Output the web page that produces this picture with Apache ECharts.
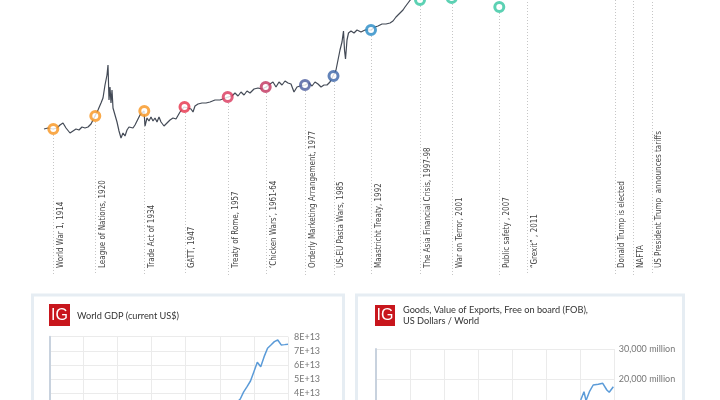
<!DOCTYPE html>
<html><head><meta charset="utf-8">
<script src="https://cdn.jsdelivr.net/npm/echarts@6/dist/echarts.min.js"></script>
<style>html,body{margin:0;padding:0;background:#fff}#c{width:720px;height:400px}</style>
</head><body><div id="c"></div>
<script>
// ---- Trade timeline (abstract timeline position vs. trade index level) ----
const trendPos = [44,48,53,57,60,63,66,70,73,76,79,82,85,88,91,95,98,101,103,105,106,107,108,109,110,111,112,113,115,117,119,121,123,125,127,129,131,133,135,137,140,144,145,147,149,151,153,155,157,159,161,164,167,170,173,176,180,184,188,191,193,195,198,202,206,210,215,220,228,232,235,238,241,244,247,250,254,258,262,266,270,273,276,279,282,285,288,291,294,297,300,305,309,312,315,318,321,324,327,330,333,336,338,340,342,343.5,344.5,345.5,347,348.5,351,354,357,361,365,371,375,378,382,386,390,393,396,399,401,403,405,408,411,414];
const trendLevel = [146,147,146,147,150,152,147,142,144,146,145,148,147,148,151,159,165,172,177,190,195,200,210,175,188,172,185,167,160,153,144,137,142,139,145,148,149,147,150,154,160,164,149,157,154,158,154,157,153,158,153,149,152,155,157,156,163,168,167,166,163,169,171,172,172,173,175,175,178,179,182,179,183,180,184,182,186,187,186,188,191,193,188,193,190,194,192,191,183,188,189,190,192,189,193,191,188,190,190,193,199,205,215,225,233,244,225,216,235,242,244,242,245,243,245,245,248,249,251,251,252,254,258,261,261,265,268,272,276,280];

const eventNames = [
  "World War 1, 1914","League of Nations, 1920","Trade Act of 1934","GATT, 1947",
  "Treaty of Rome, 1957","\u2018Chicken Wars\u2019, 1961-64","Orderly Marketing Arrangement, 1977",
  "US-EU Pasta Wars, 1985","Maastricht Treaty, 1992","The Asia Financial Crisis, 1997-98",
  "War on Terror, 2001","Public safety , 2007","\u201cGrexit\u201d , 2011","Donald Trump is elected",
  "NAFTA","US President Trump  announces tariffs"];
const eventPos = [53.3,95.3,144.3,184.5,227.7,265.7,305,333.5,371,420,451.7,499.3,527,614.5,633.3,651.5];
const eventLevel = [146,159,164,168,178,188,190,199,245,275,277,268,300,320,325,330];

// ---- World GDP (current US$) ----
const gdpYears = [2001,2002,2003,2004,2005,2006,2007,2008,2009,2010,2011,2012,2013,2014,2015,2016];
const gdpValues = [3.35e13,3.6e13,4.1e13,4.47e13,4.87e13,5.53e13,6.19e13,5.88e13,6.59e13,7.18e13,7.41e13,7.65e13,7.77e13,7.42e13,7.44e13,7.47e13];

// ---- Goods exports FOB, World (US$ million) ----
const expYears = [2005.5,2006.05,2007.0,2007.6,2008.6,2009.7,2011.2,2012.5,2013.7,2014.4,2015.6];
const expValues = [11500,13000,15770,12800,15770,18000,18230,18570,16330,15570,17430];

// ---- styles ----
const markerColors = ['#f7941d','#f7941d','#f7941d','#e63148','#d9365b','#c0325d','#4a5b9e','#3b64a8','#2589c6','#33c6a0','#33c6a0','#33c6a0','#33c6a0','#33c6a0','#33c6a0','#33c6a0'];
const labelFont = '9.5px "Liberation Sans Narrow", "DejaVu Sans Condensed", sans-serif';
const titleFont = '"Lato", "Noto Sans", sans-serif';

const chart = echarts.init(document.getElementById('c'), null, {renderer:'canvas'});

const zip = (a,b) => a.map((v,i)=>[v,b[i]]);

const option = {
  animation:false,
  backgroundColor:'#fff',
  grid:[
    {left:0, top:0, width:720, height:275, outerBoundsMode:'none', containLabel:false},
    {left:49.3, top:336.7, width:238.7, height:113.2, outerBoundsMode:'none', containLabel:false},
    {left:375.7, top:349, width:239, height:90, outerBoundsMode:'none', containLabel:false}
  ],
  xAxis:[
    {gridIndex:0, type:'value', min:0, max:720, show:false},
    {gridIndex:1, type:'value', min:1946, max:2016, interval:10, axisLine:{show:false}, axisTick:{show:false}, axisLabel:{show:false}, splitLine:{show:true, lineStyle:{color:'#ebebeb', width:1}}},
    {gridIndex:2, type:'value', min:1946, max:2016, interval:10, axisLine:{show:false}, axisTick:{show:false}, axisLabel:{show:false}, splitLine:{show:true, lineStyle:{color:'#ebebeb', width:1}}}
  ],
  yAxis:[
    {gridIndex:0, type:'value', min:0, max:275, show:false},
    {gridIndex:1, type:'value', position:'right', min:0, max:8e13, interval:1e13,
      axisLine:{show:false}, axisTick:{show:false},
      axisLabel:{margin:6, color:'#777', fontSize:9, fontFamily:titleFont, formatter:v=> v===0?'0':(v/1e13)+'E+13'},
      splitLine:{lineStyle:{color:'#ebebeb'}}},
    {gridIndex:1, type:'value', position:'left', min:0, max:8e13, axisLine:{show:true, lineStyle:{color:'#c8d2de', width:2}}, axisTick:{show:false}, axisLabel:{show:false}, splitLine:{show:false}},
    {gridIndex:2, type:'value', position:'right', min:0, max:30000, interval:10000,
      axisLine:{show:false}, axisTick:{show:false},
      axisLabel:{margin:4, color:'#777', fontSize:9, fontFamily:titleFont, formatter:v=> v.toLocaleString('en-US')+' million'},
      splitLine:{lineStyle:{color:'#ebebeb'}}},
    {gridIndex:2, type:'value', position:'left', min:0, max:30000, axisLine:{show:true, lineStyle:{color:'#c8d2de', width:2}}, axisTick:{show:false}, axisLabel:{show:false}, splitLine:{show:false}}
  ],
  graphic:[
    {type:'rect', shape:{x:32.5, y:295, width:311, height:200}, style:{fill:'none', stroke:'#e6edf3', lineWidth:3}},
    {type:'rect', shape:{x:356.5, y:295, width:327, height:200}, style:{fill:'none', stroke:'#e6edf3', lineWidth:3}},
    {type:'rect', shape:{x:49, y:304, width:21, height:22}, style:{fill:'#c8161d'}},
    {type:'text', x:59.5, y:315.5, style:{text:'IG', fill:'#fff', font:'16px "Liberation Sans", sans-serif', align:'center', verticalAlign:'middle'}},
    {type:'text', x:77, y:316, style:{text:'World GDP (current US$)', fill:'#333', font:'9.2px '+titleFont, align:'left', verticalAlign:'middle'}},
    {type:'rect', shape:{x:375, y:305, width:20, height:21}, style:{fill:'#c8161d'}},
    {type:'text', x:385, y:315.5, style:{text:'IG', fill:'#fff', font:'16px "Liberation Sans", sans-serif', align:'center', verticalAlign:'middle'}},
    {type:'text', x:403, y:310, style:{text:'Goods, Value of Exports, Free on board (FOB),', fill:'#333', font:'9.2px '+titleFont, align:'left', verticalAlign:'middle'}},
    {type:'text', x:403, y:321, style:{text:'US Dollars / World', fill:'#333', font:'9.2px '+titleFont, align:'left', verticalAlign:'middle'}}
  ],
  series:[
    {type:'custom', xAxisIndex:0, yAxisIndex:0, z:1, clip:false,
      data: eventPos.map((p,i)=>[p, eventLevel[i], i]),
      renderItem:(params, api)=>{
        const x = api.value(0), lvl = api.value(1), idx = api.value(2);
        const t = api.coord([x, lvl]);
        const b = api.coord([x, 0]);
        const l = api.coord([x, 7]);
        return {type:'group', children:[
          {type:'line', shape:{x1:Math.round(t[0])+0.5, y1:t[1], x2:Math.round(b[0])+0.5, y2:b[1]}, style:{stroke:'#c6c6c6', lineWidth:1, lineDash:[1,2]}},
          {type:'text', x:l[0]+7.5, y:l[1], rotation:Math.PI/2, scaleX:0.84, style:{text:eventNames[idx], fill:'#444', font:labelFont, align:'left', verticalAlign:'middle'}}
        ]};
      }},
    {type:'line', xAxisIndex:0, yAxisIndex:0, z:3, data:zip(trendPos, trendLevel), showSymbol:false, clip:true,
      lineStyle:{color:'#434a56', width:1.2}},
    {type:'scatter', xAxisIndex:0, yAxisIndex:0, z:5, clip:false, symbol:'circle', symbolSize:9,
      data: eventPos.map((p,i)=>({value:[p, eventLevel[i]], itemStyle:{color:'#fff', borderColor:markerColors[i], borderWidth:3}}))},
    {type:'line', xAxisIndex:1, yAxisIndex:1, data:zip(gdpYears, gdpValues), showSymbol:false, lineStyle:{color:'#5b9bd8', width:1.5}},
    {type:'line', xAxisIndex:2, yAxisIndex:3, data:zip(expYears, expValues), showSymbol:false, lineStyle:{color:'#5b9bd8', width:1.5}}
  ]
};
chart.setOption(option);
</script></body></html>
